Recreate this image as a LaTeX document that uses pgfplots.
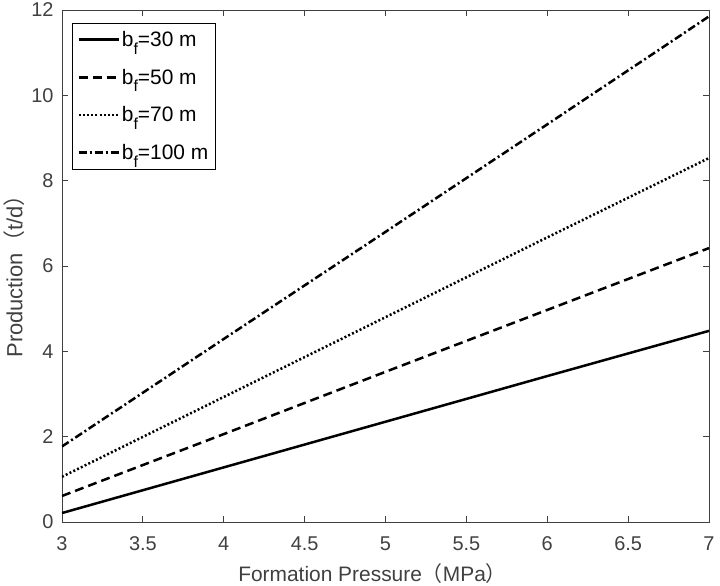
\documentclass[border=0pt]{standalone}
\usepackage{fontspec}
\setmainfont{Liberation Sans}
\newfontfamily\cjk{Noto Sans CJK SC}
\usepackage{pgfplots}
\pgfplotsset{compat=1.18}
\definecolor{axgray}{gray}{0.25}
\newcommand{\bsub}{b\raisebox{-0.7ex}{\fontsize{16}{16}\selectfont f}}
\begin{document}
\begin{tikzpicture}
\useasboundingbox (-62bp,-64bp) rectangle (658bp,522bp);
\begin{axis}[
  at={(0,0)}, anchor=south west,
  scale only axis, width=647bp, height=512bp,
  xmin=3, xmax=7, ymin=0, ymax=12,
  xtick={3,3.5,...,7}, ytick={0,2,...,12},
  xticklabels={3,3.5,4,4.5,5,5.5,6,6.5,7},
  tick align=inside, major tick length=6bp,
  axis line style={axgray, line width=0.8bp},
  every tick/.style={axgray, line width=0.8bp},
  tick label style={font=\fontsize{20}{22}\selectfont, text=axgray},
  xticklabel style={yshift=-11bp},
  yticklabel style={xshift=-5bp},
  /pgf/number format/assume math mode=true,
  xlabel={Formation Pressure{\cjk （}MPa{\cjk ）}},
  ylabel={Production{\cjk （}t/d{\cjk ）}},
  label style={font=\fontsize{21}{23}\selectfont, text=axgray},
  xlabel style={at={(axis description cs:0.48,-0.1016)}, anchor=center},
  ylabel style={at={(axis description cs:-0.0742,0.49)}, anchor=center, font=\fontsize{22}{24}\selectfont},
  legend style={at={(axis cs:3,12)}, anchor=north west, xshift=10bp, yshift=-13bp,
    draw=black, line width=0.8bp, font=\fontsize{21}{23}\selectfont,
    row sep=17bp, inner xsep=5bp, inner ysep=6bp},
  legend cell align=left,
  legend image code/.code={\draw[#1, line width=2.5bp] (0cm,0cm) -- (40bp,0cm);},
]
\addplot[black, line width=2.5bp] coordinates {(3,0.21) (4,1.28) (5,2.35) (6,3.42) (7,4.48)};
\addlegendentry{\bsub=30 m}
\addplot[black, line width=2.5bp, dash pattern=on 9bp off 5bp] coordinates {(3,0.61) (4,2.06) (5,3.52) (6,4.97) (7,6.42)};
\addlegendentry{\bsub=50 m}
\addplot[black, line width=2.5bp, dash pattern=on 2bp off 2.2bp] coordinates {(3,1.06) (4,2.93) (5,4.80) (6,6.67) (7,8.53)};
\addlegendentry{\bsub=70 m}
\addplot[black, line width=2.5bp, dash pattern=on 8bp off 3bp on 2bp off 3bp] coordinates {(3,1.77) (4,4.29) (5,6.80) (6,9.32) (7,11.85)};
\addlegendentry{\bsub=100 m}
\end{axis}
\end{tikzpicture}
\end{document}
